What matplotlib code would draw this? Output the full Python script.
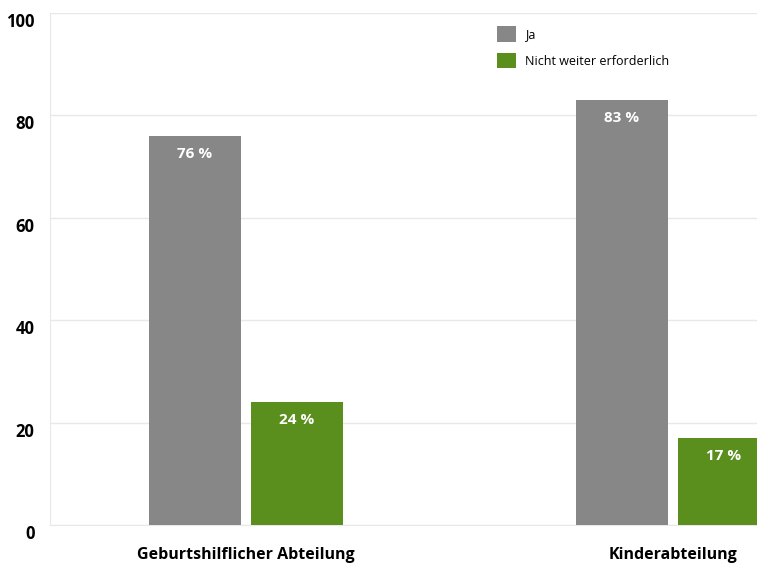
import matplotlib
matplotlib.use("Agg")
import matplotlib.pyplot as plt
import matplotlib.transforms as mtransforms
from matplotlib.patches import Patch
import numpy as np

plt.rcParams['font.family'] = ['Open Sans', 'DejaVu Sans']

categories = ["Geburtshilflicher Abteilung", "Kinderabteilung"]
series_names = ["Ja", "Nicht weiter erforderlich"]
ja_values = [76, 83]
nicht_values = [24, 17]
y_ticks = [0, 20, 40, 60, 80, 100]

gray = "#878787"
green = "#5a8f1e"

fig = plt.figure(figsize=(7.57, 5.66), dpi=100)
ax = fig.add_axes([50 / 757, 1 - 525 / 566, 707 / 757, 512 / 566])

x = np.arange(len(categories))
width = 0.2155
offset = 0.1195

bars_ja = ax.bar(x - offset, ja_values, width, color=gray, zorder=3)
bars_nw = ax.bar(x + offset, nicht_values, width, color=green, zorder=3)

for bars, vals in ((bars_ja, ja_values), (bars_nw, nicht_values)):
    for b, v in zip(bars, vals):
        ax.annotate(f"{v} %", (b.get_x() + b.get_width() / 2, v),
                    xytext=(0, -13), textcoords="offset points",
                    ha="center", va="center", color="white",
                    fontsize=11, fontweight="bold", zorder=4)

ax.set_xlim(-0.459, 1.197)
ax.set_ylim(0, 100)
ax.set_yticks(y_ticks)
ax.yaxis.grid(True, color="#e8e8e8", linewidth=1, zorder=0)
ax.set_axisbelow(True)

for side in ("top", "right"):
    ax.spines[side].set_visible(False)
ax.spines["left"].set_color("#e8e8e8")
ax.spines["bottom"].set_color("#e8e8e8")

ax.tick_params(axis="y", length=0, pad=11, labelsize=12)
for lbl in ax.get_yticklabels():
    lbl.set_fontweight("bold")
    lbl.set_transform(lbl.get_transform() +
                      mtransforms.ScaledTranslation(0, -5 / 72, fig.dpi_scale_trans))

ax.set_xticks(x)
ax.set_xticklabels(categories, fontsize=11.5, fontweight="bold")
ax.tick_params(axis="x", length=0, pad=16)

handles = [Patch(facecolor=gray, label=series_names[0]),
           Patch(facecolor=green, label=series_names[1])]
ax.legend(handles=handles, loc="upper left", bbox_to_anchor=(0.617, 0.996),
          frameon=False, fontsize=9, handlelength=1.5, handleheight=1.5,
          handletextpad=0.7, labelspacing=0.9)

fig.savefig("out.png", dpi=100)
